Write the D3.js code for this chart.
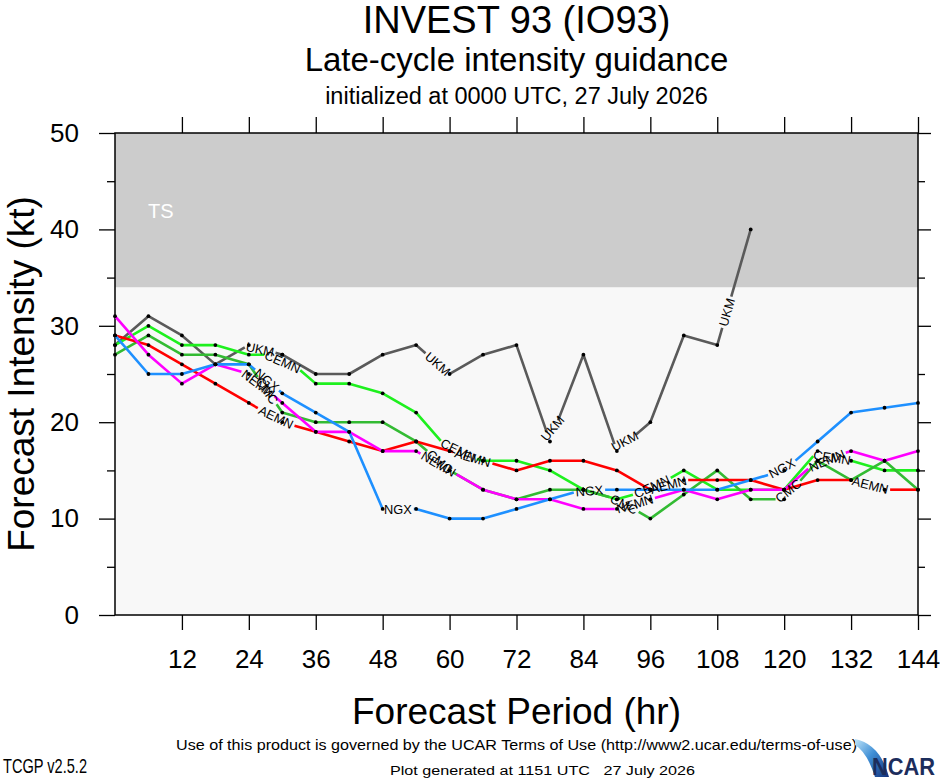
<!DOCTYPE html>
<html>
<head>
<meta charset="utf-8">
<script src="https://cdn.jsdelivr.net/npm/d3@7"></script>
<style>
  body { margin: 0; background: #fff; }
  svg { display: block; }
  text { font-family: "Liberation Sans", Arial, Helvetica, sans-serif; }
</style>
</head>
<body>
<svg width="940" height="780"></svg>
<script>
// forecast hours and axis ticks
const hours = [0, 6, 12, 18, 24, 30, 36, 42, 48, 54, 60, 66, 72, 78, 84, 90, 96, 102, 108, 114, 120, 126, 132, 138, 144];
const xTicks = [12, 24, 36, 48, 60, 72, 84, 96, 108, 120, 132, 144];
const yTicks = [0, 10, 20, 30, 40, 50];
const yMinor = [5, 15, 25, 35, 45];
const tsBand = [34, 50];

// intensity guidance (kt), one value per 6 h
const models = ["UKM", "CEMN", "CMC", "AEMN", "NEMN", "NGX"];
const ukm  = [28, 31, 29, 26, 28, 27, 25, 25, 27, 28, 25, 27, 28, 18, 27, 17, 20, 29, 28, 40];
const cemn = [28, 30, 28, 28, 27, 27, 24, 24, 23, 21, 17, 16, 16, 15, 13, 12, 13, 15, 13, 13, 13, 17, 16, 15, 15];
const cmc  = [27, 29, 27, 27, 26, 21, 20, 20, 20, 18, 15, 13, 12, 13, 13, 12, 10, 12.5, 15, 12, 12, 16, 14, 16, 13];
const aemn = [29, 28, 26, 24, 22, 20, 19, 18, 17, 18, 17, 16, 15, 16, 16, 15, 13, 14, 14, 14, 13, 14, 14, 13, 13];
const nemn = [31, 27, 24, 26, 25, 22, 19, 19, 17, 17, 15, 13, 12, 12, 11, 11, 12, 13, 12, 13, 13, 16, 17, 16, 17];
const ngx  = [29, 25, 25, 26, 26, 23, 21, 19, 11, 11, 10, 10, 11, 12, 13, 13, 13, 13, 13, 14, 15, 18, 21, 21.5, 22];
const modelValues = [ukm, cemn, cmc, aemn, nemn, ngx];

const colors = {UKM: "#5a5a5a", CEMN: "#1ef01e", CMC: "#33bb33", AEMN: "#ff0000", NEMN: "#ff00ff", NGX: "#1e90ff"};

const svg = d3.select("svg");
const plot = {left: 115, right: 918, top: 133, bottom: 615};

const x = d3.scaleLinear().domain([0, 144]).range([plot.left, plot.right]);
const y = d3.scaleLinear().domain([0, 50]).range([plot.bottom, plot.top]);

// background and TS band
svg.append("rect")
    .attr("x", x(0)).attr("y", y(tsBand[0]))
    .attr("width", x(144) - x(0)).attr("height", y(0) - y(tsBand[0]))
    .attr("fill", "#f8f8f8");
svg.append("rect")
    .attr("x", x(0)).attr("y", y(tsBand[1]))
    .attr("width", x(144) - x(0)).attr("height", y(tsBand[0]) - y(tsBand[1]))
    .attr("fill", "#cccccc");
svg.append("text")
    .attr("x", x(6) - 0.5).attr("y", y(40) - 11)
    .attr("font-size", 20).attr("fill", "#fff")
    .text("TS");

// axes: ticks go outward, on all four sides
const tickFont = 26;
svg.append("g").attr("transform", `translate(0,${plot.bottom})`)
    .call(d3.axisBottom(x).tickValues(xTicks).tickSize(15).tickPadding(20).tickSizeOuter(0));
svg.append("g").attr("transform", `translate(0,${plot.top})`)
    .call(d3.axisTop(x).tickValues(xTicks).tickSize(16).tickFormat("").tickSizeOuter(0));
svg.append("g").attr("transform", `translate(${plot.left},0)`)
    .call(d3.axisLeft(y).tickValues(yTicks).tickSize(16).tickPadding(20).tickSizeOuter(0));
svg.append("g").attr("transform", `translate(${plot.right},0)`)
    .call(d3.axisRight(y).tickValues(yTicks).tickSize(13).tickFormat("").tickSizeOuter(0));
svg.append("g").attr("transform", `translate(${plot.left},0)`)
    .call(d3.axisLeft(y).tickValues(yMinor).tickSize(8).tickFormat("").tickSizeOuter(0));
svg.append("g").attr("transform", `translate(${plot.right},0)`)
    .call(d3.axisRight(y).tickValues(yMinor).tickSize(7).tickFormat("").tickSizeOuter(0));

svg.selectAll(".domain").remove();
svg.selectAll(".tick line").attr("stroke", "#000").attr("stroke-width", 1.3);
svg.selectAll(".tick text")
    .attr("font-size", tickFont)
    .attr("font-family", "'Liberation Sans', Arial, sans-serif")
    .attr("fill", "#000");

svg.append("rect")
    .attr("x", plot.left).attr("y", plot.top)
    .attr("width", plot.right - plot.left).attr("height", plot.bottom - plot.top)
    .attr("fill", "none").attr("stroke", "#000").attr("stroke-width", 1.5);

// model lines with inline labels: dash of fixed length, then a gap holding the label
const labelFont = 12.8;
const firstDash = 163, dashLen = 169, labelPad = 2;

const measure = svg.append("text").attr("font-size", labelFont).attr("visibility", "hidden");
function textWidth(s) { measure.text(s); return measure.node().getComputedTextLength(); }

function cumulative(pts) {
    const c = [0];
    for (let i = 1; i < pts.length; i++) {
        c.push(c[i - 1] + Math.hypot(pts[i][0] - pts[i - 1][0], pts[i][1] - pts[i - 1][1]));
    }
    return c;
}

function pointAt(pts, cum, s) {
    s = Math.max(0, Math.min(cum[cum.length - 1], s));
    let i = 0;
    while (i < cum.length - 2 && cum[i + 1] < s) i++;
    const t = (s - cum[i]) / (cum[i + 1] - cum[i] || 1);
    return [pts[i][0] + t * (pts[i + 1][0] - pts[i][0]), pts[i][1] + t * (pts[i + 1][1] - pts[i][1])];
}

function piece(pts, cum, a, b) {
    const out = [pointAt(pts, cum, a)];
    for (let i = 0; i < pts.length; i++) {
        if (cum[i] > a && cum[i] < b) out.push(pts[i]);
    }
    out.push(pointAt(pts, cum, b));
    return out;
}

const line = d3.line();
const gLines = svg.append("g");
const gDots = svg.append("g");
const gLabels = svg.append("g");

models.forEach((name, k) => {
    const vals = modelValues[k];
    const pts = vals.map((v, i) => [x(hours[i]), y(v)]);
    const cum = cumulative(pts);
    const total = cum[cum.length - 1];
    const w = textWidth(name);

    const gaps = [];
    for (let s = firstDash; s + w / 2 < total; s += dashLen + w) {
        const p0 = pointAt(pts, cum, s);
        const p1 = pointAt(pts, cum, s + w);
        let ang = Math.atan2(p1[1] - p0[1], p1[0] - p0[0]) * 180 / Math.PI;
        if (ang > 90) ang -= 180;
        if (ang < -90) ang += 180;
        const cx = (p0[0] + p1[0]) / 2, cy = (p0[1] + p1[1]) / 2;
        gLabels.append("text")
            .attr("transform", `translate(${cx},${cy}) rotate(${ang})`)
            .attr("text-anchor", "middle")
            .attr("dy", "0.36em")
            .attr("font-size", labelFont)
            .attr("fill", "#000")
            .text(name);
        gaps.push([s - labelPad, s + w + labelPad]);
    }

    let a = 0;
    const pieces = [];
    gaps.forEach(g => { if (g[0] > a) pieces.push([a, g[0]]); a = g[1]; });
    if (a < total) pieces.push([a, total]);

    pieces.forEach(pc => {
        gLines.append("path")
            .attr("d", line(piece(pts, cum, pc[0], pc[1])))
            .attr("fill", "none")
            .attr("stroke", colors[name])
            .attr("stroke-width", 2.6)
            .attr("stroke-linejoin", "round");
    });

    gDots.selectAll(null)
        .data(vals)
        .enter().append("circle")
        .attr("cx", (d, i) => x(hours[i]))
        .attr("cy", d => y(d))
        .attr("r", 1.9)
        .attr("fill", "#000");
});
measure.remove();

// titles
const cx = (plot.left + plot.right) / 2;
svg.append("text").attr("x", cx).attr("y", 33).attr("text-anchor", "middle")
    .attr("font-size", 38).text("INVEST 93 (IO93)");
svg.append("text").attr("x", cx).attr("y", 71).attr("text-anchor", "middle")
    .attr("font-size", 33).text("Late-cycle intensity guidance");
svg.append("text").attr("x", cx).attr("y", 104).attr("text-anchor", "middle")
    .attr("font-size", 23.5).text("initialized at 0000 UTC, 27 July 2026");

svg.append("text").attr("x", cx).attr("y", 724).attr("text-anchor", "middle")
    .attr("font-size", 37).text("Forecast Period (hr)");
svg.append("text")
    .attr("transform", `translate(34,${(plot.top + plot.bottom) / 2}) rotate(-90)`)
    .attr("text-anchor", "middle")
    .attr("font-size", 37).text("Forecast Intensity (kt)");

// footer
svg.append("text").attr("x", 176).attr("y", 750)
    .attr("font-size", 15).attr("textLength", 681).attr("lengthAdjust", "spacingAndGlyphs")
    .text("Use of this product is governed by the UCAR Terms of Use (http://www2.ucar.edu/terms-of-use)");
svg.append("text").attr("x", 3).attr("y", 773)
    .attr("font-size", 21).attr("textLength", 84).attr("lengthAdjust", "spacingAndGlyphs")
    .text("TCGP v2.5.2");
svg.append("text").attr("x", 390).attr("y", 775)
    .attr("font-size", 12.5).attr("textLength", 305).attr("lengthAdjust", "spacingAndGlyphs")
    .attr("xml:space", "preserve")
    .text("Plot generated at 1151 UTC   27 July 2026");

// NCAR logo
const defs = svg.append("defs");
const grad = defs.append("linearGradient").attr("id", "swoosh")
    .attr("x1", "0").attr("y1", "0").attr("x2", "1").attr("y2", "1");
grad.append("stop").attr("offset", "0%").attr("stop-color", "#bfe4f8");
grad.append("stop").attr("offset", "45%").attr("stop-color", "#3f8fd6");
grad.append("stop").attr("offset", "100%").attr("stop-color", "#12307a");
svg.append("path")
    .attr("d", "M855,739 Q880,744 889,777 L875,777 Q867,752 855,745 Z")
    .attr("fill", "url(#swoosh)");
svg.append("text").attr("x", 872).attr("y", 775)
    .attr("font-size", 23).attr("font-weight", "bold")
    .attr("textLength", 63).attr("lengthAdjust", "spacingAndGlyphs")
    .attr("fill", "#1c2d5c")
    .text("NCAR");
</script>
</body>
</html>
